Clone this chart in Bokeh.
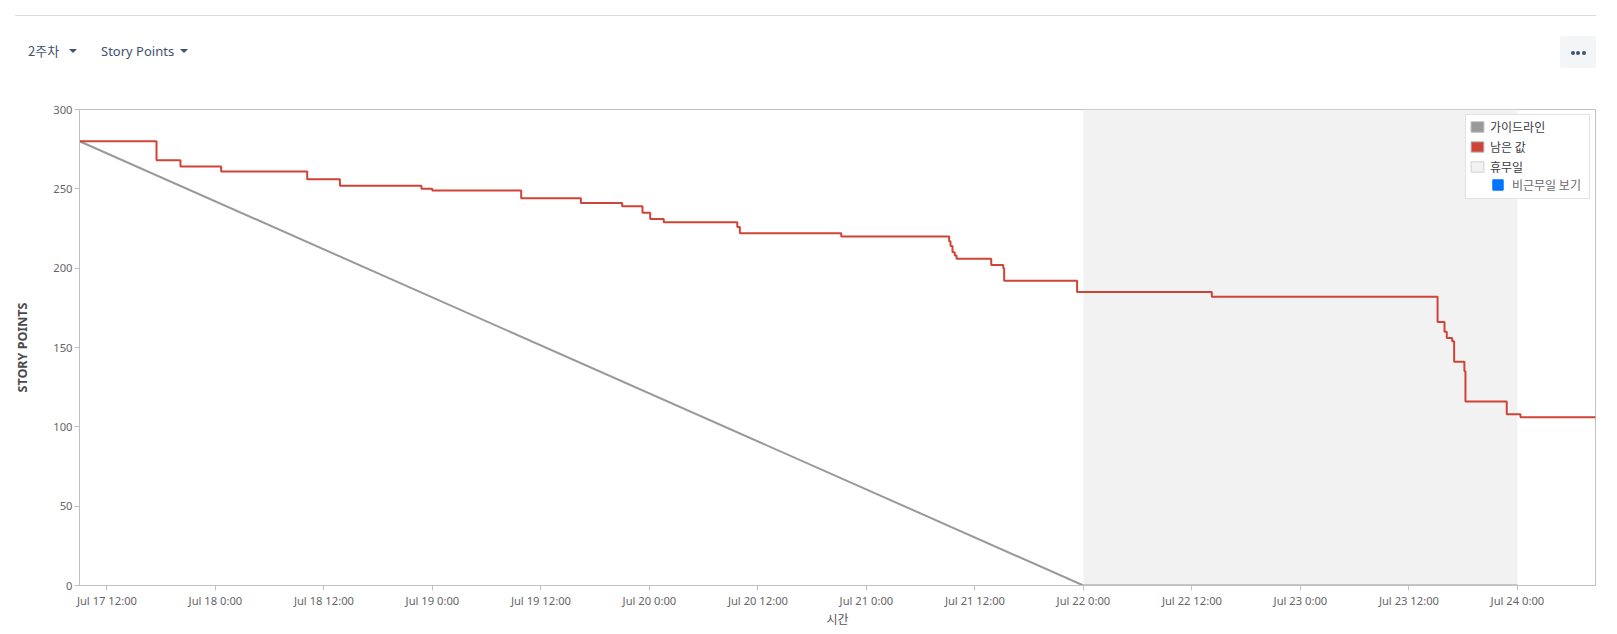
import math
import pandas as pd
from bokeh.plotting import figure
from bokeh.models import Range1d, FixedTicker, Legend, LegendItem, Label, ColumnDataSource, Div
from bokeh.layouts import column
from bokeh.embed import file_html
from bokeh.resources import INLINE

# ---------------- data ----------------
remaining_times = [
    "2023-07-17 08:58", "2023-07-17 17:29", "2023-07-17 20:08", "2023-07-18 00:38",
    "2023-07-18 10:09", "2023-07-18 13:46", "2023-07-18 22:47", "2023-07-18 23:59",
    "2023-07-19 09:49", "2023-07-19 16:25", "2023-07-19 20:59", "2023-07-19 23:14",
    "2023-07-20 00:05", "2023-07-20 01:35", "2023-07-20 09:43", "2023-07-20 10:00",
    "2023-07-20 21:13", "2023-07-21 09:09", "2023-07-21 09:18", "2023-07-21 09:31",
    "2023-07-21 09:46", "2023-07-21 09:58", "2023-07-21 13:48", "2023-07-21 15:08",
    "2023-07-21 15:14", "2023-07-21 23:18", "2023-07-22 14:12", "2023-07-23 15:10",
    "2023-07-23 15:56", "2023-07-23 16:11", "2023-07-23 16:47", "2023-07-23 17:00",
    "2023-07-23 18:08", "2023-07-23 18:15", "2023-07-23 22:49", "2023-07-24 00:20",
    "2023-07-24 08:38",
]
remaining_values = [
    280, 268, 264, 261,
    256, 252, 250, 249,
    244, 241, 239, 235,
    231, 229, 226, 222,
    220, 217, 214, 210,
    208, 206, 202, 200,
    192, 185, 182, 166,
    160, 156, 154, 141,
    135, 116, 108, 106,
    106,
]
guide_times = ["2023-07-17 08:58", "2023-07-22 00:00", "2023-07-24 00:00"]
guide_values = [280, 0, 0]
holiday_start = ["2023-07-22 00:00"]
holiday_end = ["2023-07-24 00:00"]

x_tick_times = [
    "2023-07-17 12:00", "2023-07-18 00:00", "2023-07-18 12:00", "2023-07-19 00:00",
    "2023-07-19 12:00", "2023-07-20 00:00", "2023-07-20 12:00", "2023-07-21 00:00",
    "2023-07-21 12:00", "2023-07-22 00:00", "2023-07-22 12:00", "2023-07-23 00:00",
    "2023-07-23 12:00", "2023-07-24 00:00",
]
x_tick_labels = [
    "Jul 17 12:00", "Jul 18 0:00", "Jul 18 12:00", "Jul 19 0:00",
    "Jul 19 12:00", "Jul 20 0:00", "Jul 20 12:00", "Jul 21 0:00",
    "Jul 21 12:00", "Jul 22 0:00", "Jul 22 12:00", "Jul 23 0:00",
    "Jul 23 12:00", "Jul 24 0:00",
]
y_ticks = [0, 50, 100, 150, 200, 250, 300]
y_max = 300

legend_labels = ["가이드라인", "남은 값", "휴무일"]
toggle_label = "비근무일 보기"
sprint_label = "2주차"
metric_label = "Story Points"
y_axis_title = "STORY POINTS"
x_axis_title = "시간"


def to_ms(lst):
    return [t.timestamp() * 1000.0 for t in pd.to_datetime(lst)]


rem_x = to_ms(remaining_times)
guide_x = to_ms(guide_times)
hol_l = to_ms(holiday_start)
hol_r = to_ms(holiday_end)
tick_x = to_ms(x_tick_times)

KR = "Noto Sans CJK KR"
LAT = "Noto Sans"
UI_COLOR = "#42526E"
AXIS_COLOR = "#C0C0C0"
W = 1617

# ---------------- header (HTML controls) ----------------
def caret(left):
    return (f'<div style="position:absolute;left:{left}px;top:49px;width:0;height:0;'
            f'border-left:4px solid transparent;border-right:4px solid transparent;'
            f'border-top:4.5px solid {UI_COLOR};"></div>')


def dot(cx):
    return (f'<div style="position:absolute;left:{cx - 2}px;top:50.5px;width:4px;height:4px;'
            f'border-radius:50%;background:{UI_COLOR};"></div>')


header_html = (
    f'<div style="position:relative;width:{W}px;height:88px;color:{UI_COLOR};'
    f'font-family:\'Noto Sans\',\'Noto Sans CJK KR\';">'
    f'<div style="position:absolute;left:15px;top:15px;width:1581px;height:1px;background:#DADADA;"></div>'
    f'<div style="position:absolute;left:28px;top:41px;font-size:13px;line-height:20px;'
    f'font-family:\'Noto Sans CJK KR\';white-space:nowrap;">{sprint_label}</div>'
    + caret(68.5) +
    f'<div style="position:absolute;left:101px;top:41px;font-size:13px;line-height:20px;'
    f'white-space:nowrap;">{metric_label}</div>'
    + caret(179.5) +
    f'<div style="position:absolute;left:1560px;top:36px;width:36px;height:32px;'
    f'background:#F4F5F7;border-radius:3px;"></div>'
    + dot(1573) + dot(1578.3) + dot(1583.6) +
    '</div>'
)
head = Div(text=header_html, width=W, height=88, margin=0)

# ---------------- main chart ----------------
MAIN_H = 544
p = figure(width=W, height=MAIN_H, x_axis_type="datetime",
           x_range=Range1d(min(rem_x), max(rem_x)), y_range=Range1d(0, y_max),
           toolbar_location=None, output_backend="svg",
           min_border_left=79, min_border_right=22, min_border_top=21, min_border_bottom=47,
           outline_line_color=AXIS_COLOR, background_fill_color="white",
           border_fill_color="white")
p.grid.visible = False

# non-working days
p.quad(left=hol_l, right=hol_r, bottom=[0], top=[y_max], fill_color="#F2F2F2",
       line_color=None)
# guideline
p.line(guide_x, guide_values, line_color="#999999", line_width=2)
# remaining
p.step(rem_x, remaining_values, mode="after", line_color="#D04437", line_width=2)


def swatch(**kw):
    src = ColumnDataSource(dict(left=[math.nan], right=[math.nan], top=[math.nan],
                                bottom=[math.nan]))
    return p.quad(source=src, left="left", right="right", top="top", bottom="bottom", **kw)


r_guide = swatch(fill_color="#999999", line_color="#B8B8B8")
r_rem = swatch(fill_color="#D04437", line_color="#B8B8B8")
r_hol = swatch(fill_color="#F2F2F2", line_color="#D0D0D0")
r_blank = swatch(fill_alpha=0, line_alpha=0)
r_chk = swatch(fill_color="#0075FF", line_color="#0075FF")

legend = Legend(items=[
    LegendItem(label=legend_labels[0], renderers=[r_guide]),
    LegendItem(label=legend_labels[1], renderers=[r_rem]),
    LegendItem(label=legend_labels[2], renderers=[r_hol]),
    LegendItem(label="\u2003" * 8, renderers=[r_blank]),
], location="top_right", margin=5, padding=3, spacing=3, glyph_width=16, glyph_height=13,
    label_standoff=5, label_height=14, label_text_font=KR, label_text_font_size="12px",
    label_text_color="#3C3C3C", border_line_color="#C8C8C8", background_fill_alpha=1.0,
    background_fill_color="white")
p.add_layout(legend)

legend2 = Legend(items=[LegendItem(label=toggle_label, renderers=[r_chk])],
                 location=(1412, 392), margin=0, padding=0, glyph_width=13, glyph_height=13,
                 label_standoff=8, label_height=13, label_text_font=KR,
                 label_text_font_size="12px", label_text_color="#6A6A6A",
                 border_line_color=None, background_fill_alpha=0)
p.add_layout(legend2)

chk = Label(x=1419, y=400, x_units="screen", y_units="screen", text="\u2714",
            text_color="white", text_font="DejaVu Sans", text_font_size="9px",
            text_align="center", text_baseline="middle", level="overlay")
p.add_layout(chk)

# axes
for ax in (p.xaxis[0], p.yaxis[0]):
    ax.axis_line_color = AXIS_COLOR
    ax.major_tick_line_color = AXIS_COLOR
    ax.major_tick_out = 5
    ax.major_tick_in = 0
    ax.minor_tick_line_color = None
    ax.major_label_standoff = 2
    ax.major_label_text_font = LAT
    ax.major_label_text_font_size = "11.2px"
    ax.major_label_text_color = "#666666"

p.yaxis[0].ticker = FixedTicker(ticks=y_ticks)
p.yaxis[0].axis_label = y_axis_title
p.yaxis[0].axis_label_text_font = LAT
p.yaxis[0].axis_label_text_font_style = "bold"
p.yaxis[0].axis_label_text_font_size = "12.5px"
p.yaxis[0].axis_label_text_color = "#4A4A4A"
p.yaxis[0].axis_label_standoff = 19

p.xaxis[0].ticker = FixedTicker(ticks=tick_x)
p.xaxis[0].major_label_overrides = {t: lab for t, lab in zip(tick_x, x_tick_labels)}
p.xaxis[0].axis_label = x_axis_title
p.xaxis[0].axis_label_text_font = KR
p.xaxis[0].axis_label_text_font_style = "normal"
p.xaxis[0].axis_label_text_font_size = "12px"
p.xaxis[0].axis_label_text_color = "#555555"
p.xaxis[0].axis_label_standoff = -1

layout = column(head, p, spacing=0)
open("out.html", "w").write(file_html(layout, INLINE))
